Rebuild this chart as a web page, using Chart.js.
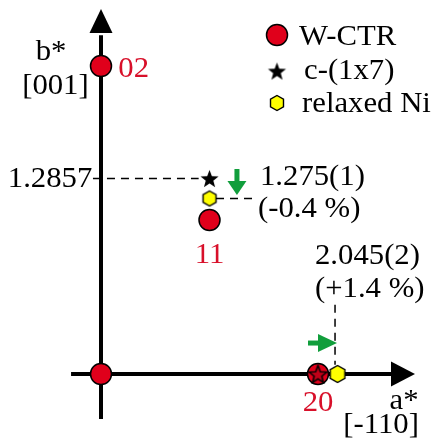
<!DOCTYPE html>
<html>
<head>
<meta charset="utf-8">
<script src="https://cdn.jsdelivr.net/npm/chart.js@4"></script>
<style>
  html, body { margin: 0; padding: 0; background: #fff; }
  canvas { display: block; }
</style>
</head>
<body>
<canvas id="lattice" width="437" height="441"></canvas>
<script>
// reciprocal lattice points, in units of a* and b*
const ctrA = [0, 2, 1, 0];
const ctrB = [0, 0, 1, 2];
const c17A = [1, 2];
const c17B = [1.27, 0];
const niA = [1, 2.18];
const niB = [1.14, 0];

const legendNames = ['W-CTR', 'c-(1x7)', 'relaxed Ni'];

// text on the drawing: [text, a*, b*, align, colour]
const notes = [
    ['b*', -0.46, 2.04, 'center', '#000'],
    ['[001]', -0.42, 1.82, 'center', '#000'],
    ['02', 0.16, 1.93, 'left', '#d8102a'],
    ['1.2857', -0.08, 1.214, 'right', '#000'],
    ['1.275(1)', 1.465, 1.227, 'left', '#000'],
    ['(-0.4 %)', 1.447, 1.019, 'left', '#000'],
    ['11', 1.0, 0.721, 'center', '#d8102a'],
    ['2.045(2)', 1.972, 0.714, 'left', '#000'],
    ['(+1.4 %)', 1.972, 0.5, 'left', '#000'],
    ['20', 2.0, -0.24, 'center', '#d8102a'],
    ['a*', 2.793, -0.227, 'center', '#000'],
    ['[-110]', 2.581, -0.383, 'center', '#000']
];

const RED = '#e0001b';
const GREEN = '#119e3c';
const FONT = '29px "Liberation Serif", "Times New Roman", serif';
const STRETCH = 1.06;

function makeStar(size, fill, stroke) {
    const c = document.createElement('canvas');
    c.width = c.height = size;
    const g = c.getContext('2d');
    const r = size / 2 - 1, r2 = r * 0.42, m = size / 2;
    g.beginPath();
    for (let i = 0; i < 10; i++) {
        const rr = i % 2 ? r2 : r;
        const ang = -Math.PI / 2 + i * Math.PI / 5;
        const x = m + rr * Math.cos(ang), y = m + 1 + rr * Math.sin(ang);
        if (i) g.lineTo(x, y); else g.moveTo(x, y);
    }
    g.closePath();
    if (fill) { g.fillStyle = fill; g.fill(); }
    if (stroke) { g.strokeStyle = stroke; g.lineWidth = 1.5; g.stroke(); }
    return c;
}

function makeHex(r) {
    const c = document.createElement('canvas');
    c.width = Math.ceil(r * 2 + 3);
    c.height = Math.ceil(r * 2 + 3);
    const g = c.getContext('2d');
    const mx = c.width / 2, my = c.height / 2;
    g.beginPath();
    for (let i = 0; i < 6; i++) {
        const ang = -Math.PI / 2 + i * Math.PI / 3;
        const x = mx + r * Math.cos(ang), y = my + r * Math.sin(ang);
        if (i) g.lineTo(x, y); else g.moveTo(x, y);
    }
    g.closePath();
    g.fillStyle = '#ffff00';
    g.fill();
    g.strokeStyle = '#000';
    g.lineWidth = 1.4;
    g.stroke();
    return c;
}

const starSolid = makeStar(21, '#000', null);
const starOnDot = makeStar(21, '#c00018', '#000');
const hexSmall = makeHex(7.5);
const hexBig = makeHex(8.5);

function pts(xs, ys) {
    return xs.map((x, i) => ({ x: x, y: ys[i] }));
}

function lineSet(points, width, color, dash, order) {
    return {
        type: 'line',
        data: points,
        showLine: true,
        borderColor: color,
        borderWidth: width,
        borderDash: dash || [],
        pointRadius: 0,
        fill: false,
        order: order,
        clip: false
    };
}

// arrowheads + text
const decor = {
    id: 'decor',
    afterDatasetsDraw(chart) {
        const ctx = chart.ctx;
        const sx = chart.scales.x, sy = chart.scales.y;
        const X = v => sx.getPixelForValue(v), Y = v => sy.getPixelForValue(v);

        function head(tipX, tipY, dir, len, half, color) {
            const bx = tipX - dir[0] * len, by = tipY - dir[1] * len;
            ctx.beginPath();
            ctx.moveTo(tipX, tipY);
            ctx.lineTo(bx - dir[1] * half, by + dir[0] * half);
            ctx.lineTo(bx + dir[1] * half, by - dir[0] * half);
            ctx.closePath();
            ctx.fillStyle = color;
            ctx.fill();
        }

        function text(str, x, y, align) {
            ctx.save();
            ctx.translate(x, y);
            ctx.scale(STRETCH, 1);
            ctx.textAlign = align;
            ctx.fillText(str, 0, 0);
            ctx.restore();
        }

        ctx.save();
        head(X(2.894), Y(0), [1, 0], 24, 12.5, '#000');
        head(X(0), Y(2.37), [0, -1], 24, 11.5, '#000');
        head(X(1.253), Y(1.162), [0, 1], 14, 9.5, GREEN);
        head(X(2.175), Y(0.201), [1, 0], 19, 9, GREEN);

        ctx.font = FONT;
        ctx.textBaseline = 'alphabetic';
        notes.forEach(n => {
            ctx.fillStyle = n[4];
            text(n[0], X(n[1]), Y(n[2]), n[3]);
        });

        // legend
        ctx.beginPath();
        ctx.arc(277, 35, 10.5, 0, Math.PI * 2);
        ctx.fillStyle = RED;
        ctx.fill();
        ctx.lineWidth = 1.5;
        ctx.strokeStyle = '#000';
        ctx.stroke();
        ctx.drawImage(starSolid, 277 - starSolid.width / 2, 71 - starSolid.height / 2);
        ctx.drawImage(hexSmall, 277 - hexSmall.width / 2, 103 - hexSmall.height / 2);
        ctx.fillStyle = '#000';
        text(legendNames[0], 299, 45, 'left');
        text(legendNames[1], 304, 79, 'left');
        text(legendNames[2], 302, 112, 'left');
        ctx.restore();
    }
};

new Chart(document.getElementById('lattice').getContext('2d'), {
    type: 'scatter',
    data: {
        datasets: [
            {
                label: 'c-(1x7)',
                data: pts(c17A, c17B),
                pointStyle: [starSolid, starOnDot],
                order: 1,
                clip: false
            },
            {
                label: 'relaxed Ni',
                data: pts(niA, niB),
                pointStyle: [hexSmall, hexBig],
                order: 2,
                clip: false
            },
            {
                label: 'W-CTR',
                data: pts(ctrA, ctrB),
                pointStyle: 'circle',
                pointRadius: 10.5,
                backgroundColor: RED,
                borderColor: '#000',
                borderWidth: 1.5,
                order: 3,
                clip: false
            },
            // guide lines
            lineSet([{ x: -0.074, y: 1.27 }, { x: 0.9, y: 1.27 }], 1.5, '#000', [8, 6], 5),
            lineSet([{ x: 1.06, y: 1.14 }, { x: 1.44, y: 1.14 }], 1.5, '#000', [8, 6], 5),
            lineSet([{ x: 2.157, y: 0.45 }, { x: 2.157, y: 0.06 }], 1.5, '#000', [8, 6], 5),
            // green shifts
            lineSet([{ x: 1.253, y: 1.331 }, { x: 1.253, y: 1.2 }], 5, GREEN, null, 5),
            lineSet([{ x: 1.908, y: 0.201 }, { x: 2.03, y: 0.201 }], 5, GREEN, null, 5),
            // axes
            lineSet([{ x: -0.276, y: 0 }, { x: 2.7, y: 0 }], 4, '#000', null, 6),
            lineSet([{ x: 0, y: -0.292 }, { x: 0, y: 2.2 }], 4, '#000', null, 6)
        ]
    },
    options: {
        responsive: false,
        animation: false,
        layout: { padding: 0, autoPadding: false },
        scales: {
            x: { type: 'linear', display: false, min: -0.9309, max: 3.0968 },
            y: { type: 'linear', display: false, min: -0.4351, max: 2.4286 }
        },
        plugins: {
            legend: { display: false },
            tooltip: { enabled: false }
        }
    },
    plugins: [decor]
});
</script>
</body>
</html>
